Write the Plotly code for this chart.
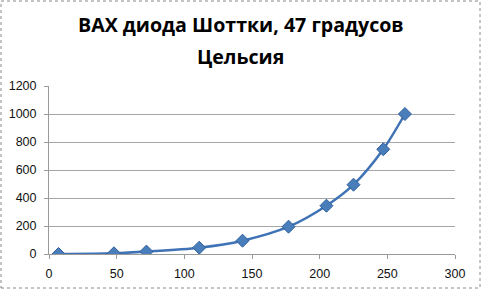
import plotly.graph_objects as go

x_vals = [7, 48, 72, 111, 143, 177, 205, 225, 247, 263]
y_vals = [0, 5, 17, 45, 95, 195, 345, 495, 748, 1000]
x_ticks = [0, 50, 100, 150, 200, 250, 300]
y_ticks = [0, 200, 400, 600, 800, 1000, 1200]
title_lines = ["ВАХ диода Шоттки, 47 градусов", "Цельсия"]

fig = go.Figure()
fig.add_trace(go.Scatter(
    x=x_vals, y=y_vals, mode="lines+markers",
    line=dict(color="#3F73B5", width=2.5, shape="spline", smoothing=0.8),
    marker=dict(symbol="diamond", size=10, color="#4A7EBB",
                line=dict(color="#2E5F9E", width=1)),
    showlegend=False,
))

title_font = dict(family="Open Sans", size=19.6, color="black", weight="bold")
cx = (240.5 - 49) / 406
annotations = [
    dict(text=title_lines[0], xref="paper", yref="paper", x=cx, y=(254 - 25) / 168,
         xanchor="center", yanchor="middle", showarrow=False, font=title_font),
    dict(text=title_lines[1], xref="paper", yref="paper", x=cx, y=(254 - 57) / 168,
         xanchor="center", yanchor="middle", showarrow=False, font=title_font),
]

tf = dict(family="Liberation Sans", size=12.5, color="#111")
fig.update_layout(
    width=481, height=289,
    margin=dict(l=49, r=26, t=86, b=35, autoexpand=False),
    paper_bgcolor="white", plot_bgcolor="white",
    font=dict(family="Liberation Sans", size=12, color="#111"),
    annotations=annotations,
    xaxis=dict(range=[0, 300], tickvals=x_ticks, showgrid=False, zeroline=False,
               showline=True, linecolor="#999", linewidth=1, automargin=False,
               ticks="outside", ticklen=4, tickcolor="#999",
               ticklabelstandoff=4, tickfont=tf),
    yaxis=dict(range=[0, 1200], tickvals=y_ticks, showgrid=True, gridcolor="#A6A6A6",
               gridwidth=1, zeroline=False, showline=True, linecolor="#999", linewidth=1,
               automargin=False, ticks="outside", ticklen=4, tickcolor="#999",
               ticklabelstandoff=5, tickfont=tf),
    shapes=[dict(type="rect", xref="paper", yref="paper", x0=-48/406, x1=1+25/406,
                 y0=-34/168, y1=1+85/168, line=dict(color="#888", width=1, dash="dot"))],
)

fig.write_html("out.html")
